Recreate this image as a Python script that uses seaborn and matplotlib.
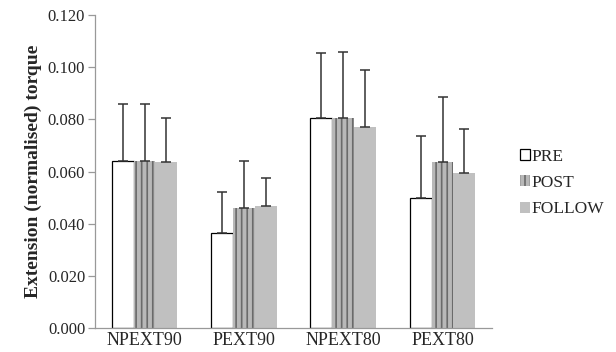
import numpy as np
import pandas as pd
import matplotlib
matplotlib.use("Agg")
import matplotlib.pyplot as plt
import seaborn as sns

categories = ["NPEXT90", "PEXT90", "NPEXT80", "PEXT80"]
phases = ["PRE", "POST", "FOLLOW"]
pre_mean = [0.064, 0.0365, 0.0805, 0.050]
post_mean = [0.064, 0.046, 0.0805, 0.0635]
follow_mean = [0.0635, 0.047, 0.077, 0.0595]
pre_sd = [0.022, 0.0155, 0.025, 0.0235]
post_sd = [0.022, 0.018, 0.0255, 0.025]
follow_sd = [0.017, 0.0105, 0.022, 0.017]

means = {"PRE": pre_mean, "POST": post_mean, "FOLLOW": follow_mean}
sds = {"PRE": pre_sd, "POST": post_sd, "FOLLOW": follow_sd}

df = pd.DataFrame(
    [(c, p, means[p][i]) for p in phases for i, c in enumerate(categories)],
    columns=["cond", "phase", "torque"],
)

sns.set_style("white")
plt.rcParams["font.family"] = ["Liberation Serif", "DejaVu Serif"]
plt.rcParams["hatch.linewidth"] = 1.2

fig = plt.figure(figsize=(6.16, 3.52), dpi=100)
ax = fig.add_axes([0.154, 0.068, 0.645, 0.889])

sns.barplot(data=df, x="cond", y="torque", hue="phase", order=categories,
            hue_order=phases, width=0.66, gap=0, errorbar=None, ax=ax,
            legend=False)

styles = {
    "PRE": dict(facecolor="white", edgecolor="black", linewidth=0.9, hatch=None),
    "POST": dict(facecolor="#b8b8b8", edgecolor="#6a6a6a", linewidth=0, hatch="|||"),
    "FOLLOW": dict(facecolor="#c0c0c0", edgecolor="#c0c0c0", linewidth=0, hatch=None),
}
for phase, cont in zip(phases, ax.containers):
    st = styles[phase]
    for bar in cont:
        bar.set_facecolor(st["facecolor"])
        bar.set_edgecolor(st["edgecolor"])
        bar.set_linewidth(st["linewidth"])
        bar.set_hatch(st["hatch"])
    xs = [b.get_x() + b.get_width() / 2 for b in cont]
    err = np.array(sds[phase])
    ax.errorbar(xs, means[phase], yerr=[np.zeros_like(err), err], fmt="none",
                ecolor="#333333", elinewidth=1.1, capsize=3.3, capthick=1.1,
                zorder=1)

ax.set_ylim(0, 0.12)
ax.set_yticks(np.arange(0, 0.121, 0.02))
ax.set_yticklabels([f"{v:.3f}" for v in np.arange(0, 0.121, 0.02)], fontsize=12)
ax.set_xlim(-0.5, 3.5)
ax.set_xticks(range(4))
ax.set_xticklabels(categories, fontsize=13)
ax.set_xticks(np.arange(-0.5, 4, 1), minor=True)
ax.tick_params(axis="x", which="major", length=0, pad=3)
ax.tick_params(axis="x", which="minor", length=5, width=0.9, color="#999999")
ax.tick_params(axis="y", length=5, width=0.9, color="#999999", pad=2, left=True)
ax.set_xlabel("")
ax.set_ylabel("Extension (normalised) torque", fontsize=14, fontweight="bold",
              labelpad=4)
for s in ["top", "right"]:
    ax.spines[s].set_visible(False)
for s in ["left", "bottom"]:
    ax.spines[s].set_color("#999999")
    ax.spines[s].set_linewidth(0.9)

ax.legend(ax.containers, phases, loc="center left", bbox_to_anchor=(0.818, 0.48),
          bbox_transform=fig.transFigure, frameon=False, fontsize=12.5,
          handlelength=0.6, handleheight=0.6, handletextpad=0.1, labelspacing=0.6)

fig.savefig("out.png", dpi=100)
